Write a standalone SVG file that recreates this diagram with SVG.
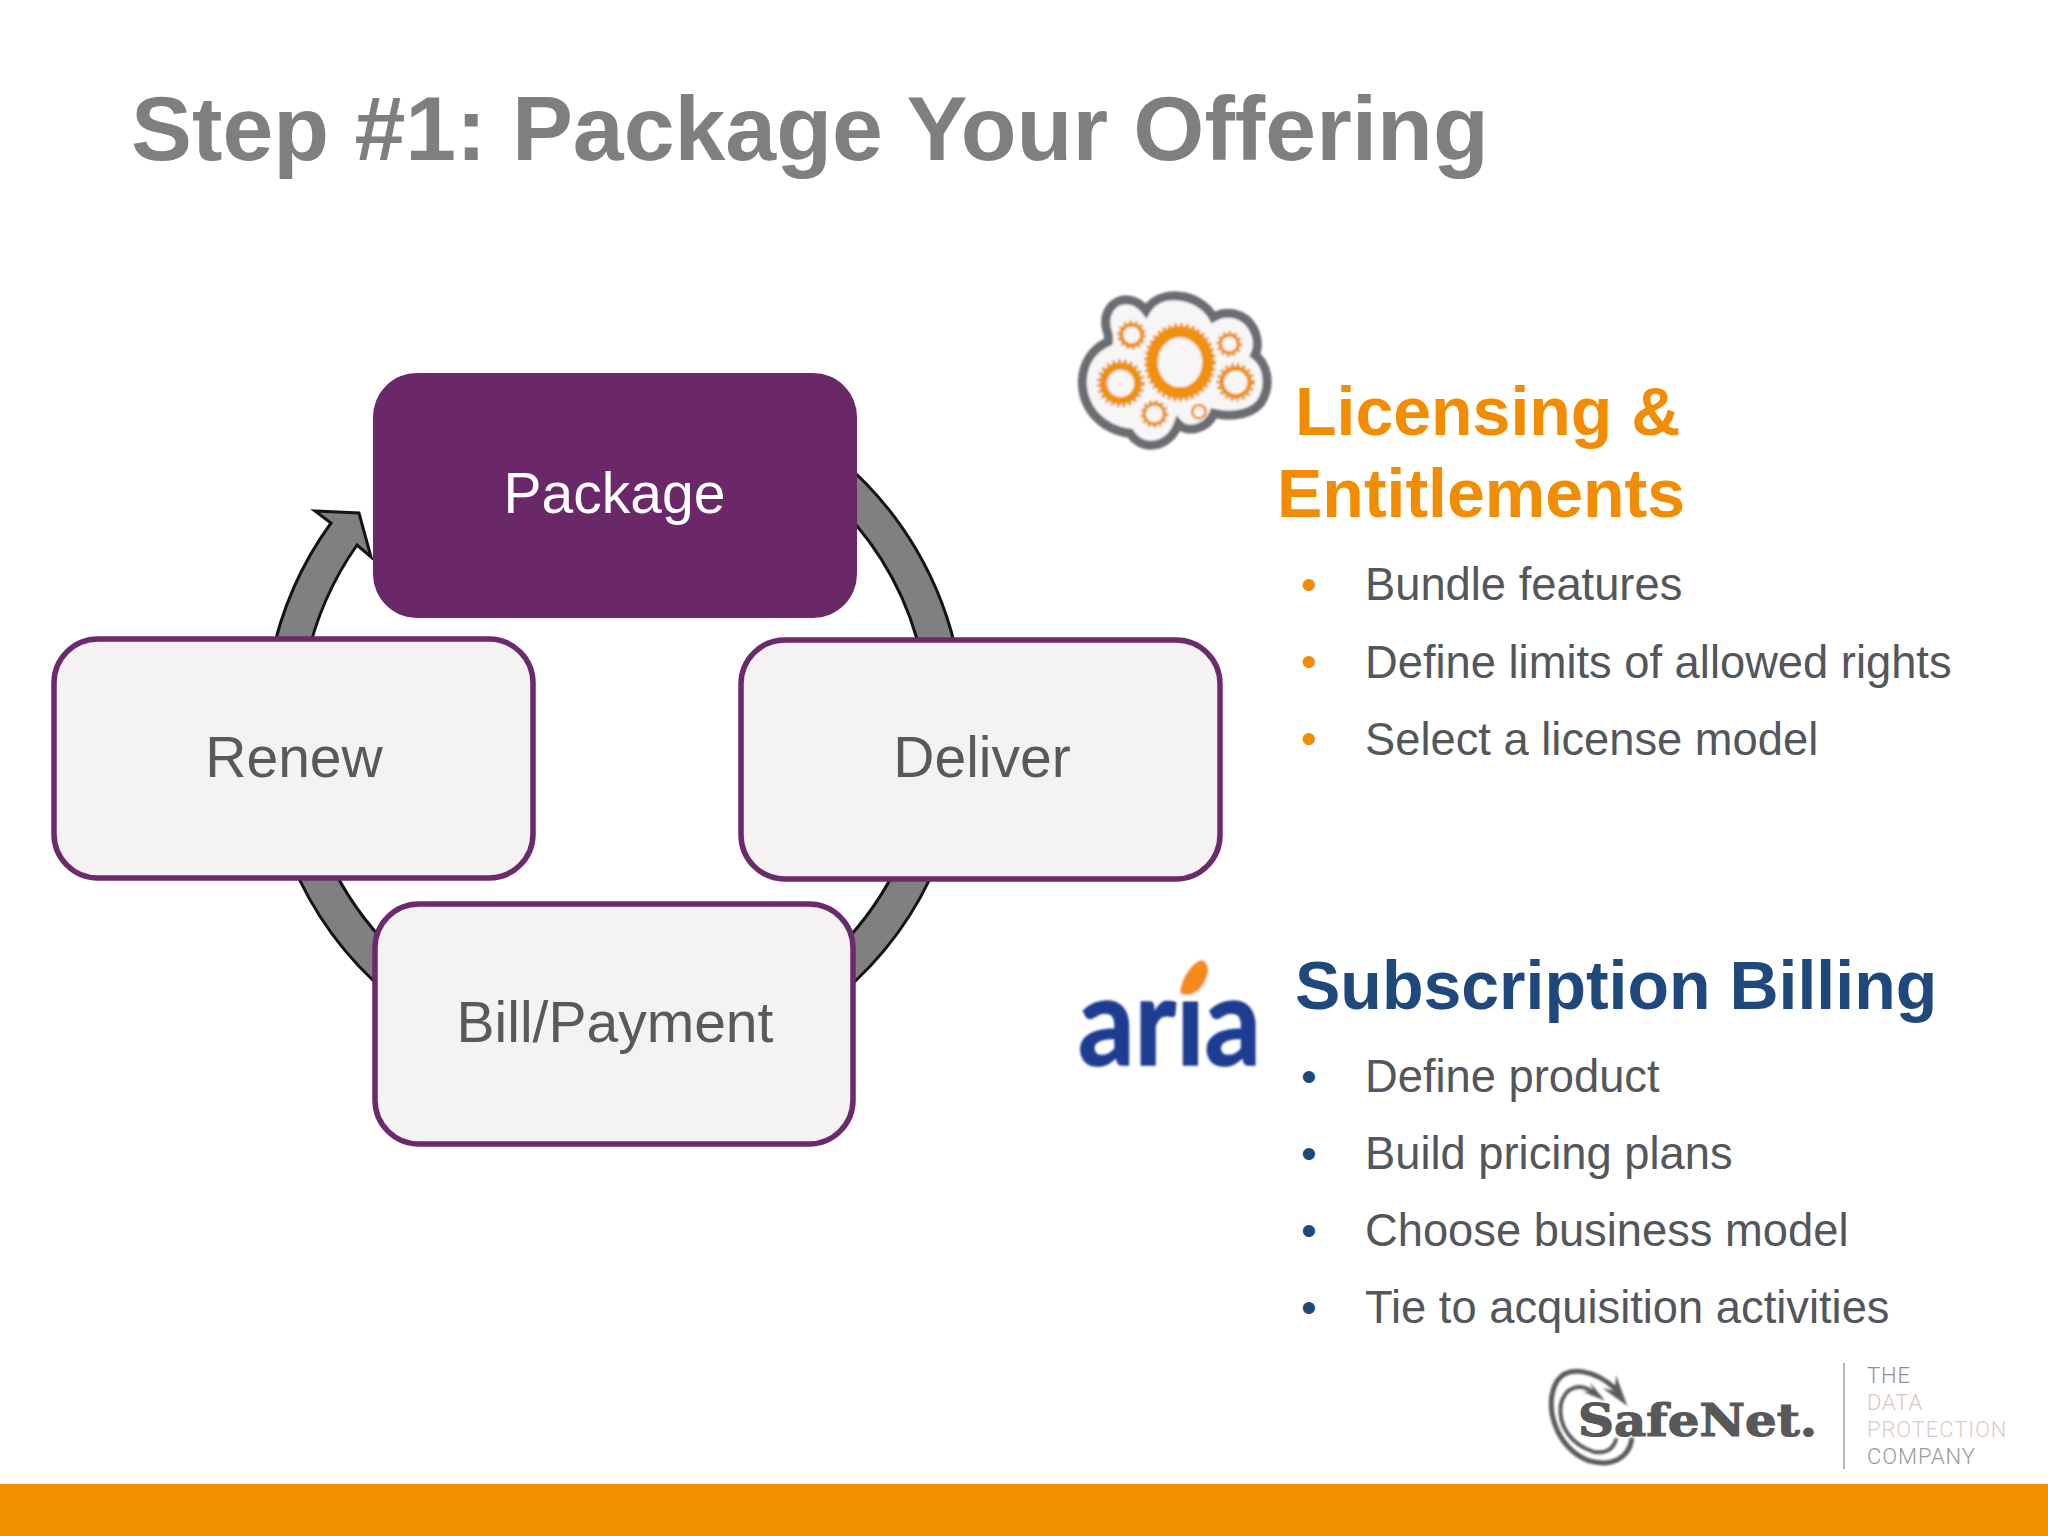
<svg xmlns="http://www.w3.org/2000/svg" width="2048" height="1536" viewBox="0 0 2048 1536">
<defs>
<filter id="soft" x="-5%" y="-5%" width="110%" height="110%"><feGaussianBlur stdDeviation="0.9"/></filter>
<filter id="soft3" x="-5%" y="-5%" width="110%" height="110%"><feGaussianBlur stdDeviation="2.4"/></filter>
</defs>
<style>
text{font-family:"Liberation Sans",Arial,sans-serif}
.node{fill:#f5f2f3;stroke:#6b2a6e;stroke-width:5.5}
.ntext{font-size:57px;fill:#595959;text-anchor:middle}
.flow{fill:#808080;stroke:#141414;stroke-width:3;stroke-linejoin:miter}
.h{font-size:68px;font-weight:bold}
.li{font-size:45.3px;fill:#53565a}
.or{fill:#f28c00}
.bl{fill:#1f497d}
.ring{fill:none;stroke:#f0900f}
.teeth{fill:none;stroke:#d9921e;stroke-dasharray:8 10}
.tag{font-family:Roboto,"Liberation Sans",sans-serif;font-weight:300;font-size:22px;letter-spacing:0.9px}
.sw{fill:none;stroke:#5c5c5e;stroke-linecap:round}
</style>
<rect width="2048" height="1536" fill="#ffffff"/>
<rect id="footer-band" x="0" y="1484" width="2048" height="52" fill="#f39000"/>
<text id="title" x="131" y="160" font-size="91.4" font-weight="bold" fill="#7f7f7f">Step #1: Package Your Offering</text>

<g id="connectors">
<path class="flow" d="M840 459.3 A350 350 0 0 1 958 660 L922.3 660 A315 315 0 0 0 840 507.1 Z"/>
<path class="flow" d="M938.3 860 A350 350 0 0 1 840 994.7 L840 946.9 A315 315 0 0 0 900 860 Z"/>
<path class="flow" d="M390 995.5 A350 350 0 0 1 290.7 860 L329 860 A315 315 0 0 0 390 947.7 Z"/>
<path class="flow" d="M271 660 A350 350 0 0 1 331 523 L315 511 L359 513 L371 557 L357 545 A315 315 0 0 0 306.7 660 Z"/>
</g>

<g id="node-package">
<rect x="373" y="373" width="484" height="245" rx="44" fill="#6b2868"/>
<text x="614.5" y="513" class="ntext" style="fill:#ffffff">Package</text>
</g>
<g id="node-renew">
<rect class="node" x="54" y="639" width="479" height="239" rx="44"/>
<text x="294" y="777" class="ntext">Renew</text>
</g>
<g id="node-deliver">
<rect class="node" x="741" y="640" width="479" height="239" rx="44"/>
<text x="982" y="777" class="ntext">Deliver</text>
</g>
<g id="node-bill">
<rect class="node" x="375" y="904" width="478" height="240" rx="44"/>
<text x="615" y="1042" class="ntext">Bill/Payment</text>
</g>

<g id="logo-cloud" transform="translate(1050 270) scale(0.3333)" filter="url(#soft3)">
<path d="M175 195 C150 130 190 85 235 90 C260 92 275 105 288 122 C310 85 350 75 385 78 C430 82 470 105 490 142 C530 118 585 130 610 175 C625 205 625 235 615 255 C655 285 660 345 640 385 C620 430 550 445 492 430 C470 480 410 490 385 462 C360 530 280 550 240 490 C160 480 95 420 97 330 C100 275 130 235 175 215 Z" fill="#f7f5f5" stroke="#6a6e72" stroke-width="27"/>
<g>
<ellipse class="ring" cx="390" cy="277" rx="84" ry="92" stroke-width="34"/>
<ellipse class="teeth" cx="390" cy="277" rx="102" ry="112" stroke-width="12" style="stroke:#f0900f"/>
<circle class="ring" cx="245" cy="195" r="31" stroke-width="12"/>
<circle class="teeth" cx="245" cy="195" r="40" stroke-width="7"/>
<circle class="ring" cx="538" cy="222" r="27" stroke-width="10"/>
<circle class="teeth" cx="538" cy="222" r="35" stroke-width="7"/>
<circle class="ring" cx="212" cy="340" r="52" stroke-width="22"/>
<circle class="teeth" cx="212" cy="340" r="67" stroke-width="10"/>
<circle class="ring" cx="557" cy="337" r="42" stroke-width="14"/>
<circle class="teeth" cx="557" cy="337" r="53" stroke-width="9"/>
<circle class="ring" cx="313" cy="432" r="30" stroke-width="10"/>
<circle class="teeth" cx="313" cy="432" r="38" stroke-width="7"/>
<circle class="ring" cx="447" cy="425" r="20" stroke-width="8"/>
</g>
</g>

<g id="section-licensing">
<text class="h or" x="1295" y="435">Licensing &amp;</text>
<text class="h or" x="1277" y="517">Entitlements</text>
<g class="or" font-size="45">
<text x="1301" y="600">•</text><text x="1301" y="677">•</text><text x="1301" y="754">•</text>
</g>
<text class="li" x="1365" y="600">Bundle features</text>
<text class="li" x="1365" y="678">Define limits of allowed rights</text>
<text class="li" x="1365" y="755">Select a license model</text>
</g>

<g id="logo-aria" filter="url(#soft)">
<text x="1078" y="1065" font-size="122" font-weight="bold" fill="#1d3c92" stroke="#1d3c92" stroke-width="1.5" textLength="183" lengthAdjust="spacingAndGlyphs" style="font-family:Lato,'Liberation Sans',sans-serif">aria</text>
<rect x="1168" y="950" width="50" height="50" fill="#ffffff"/>
<path d="M1180 990 C1183 975 1193 962 1201 960 C1207 961 1209 967 1208 973 C1205 985 1198 994 1188 995 C1182 995 1180 994 1180 990 Z" fill="#f58a1f"/>
</g>

<g id="section-billing">
<text class="h bl" x="1295" y="1009">Subscription Billing</text>
<g class="bl" font-size="45">
<text x="1301" y="1092">•</text><text x="1301" y="1169">•</text><text x="1301" y="1246">•</text><text x="1301" y="1323">•</text>
</g>
<text class="li" x="1365" y="1092">Define product</text>
<text class="li" x="1365" y="1169">Build pricing plans</text>
<text class="li" x="1365" y="1246">Choose business model</text>
<text class="li" x="1365" y="1323">Tie to acquisition activities</text>
</g>

<g id="logo-safenet">
<g transform="translate(1530 1350) scale(0.3333)" filter="url(#soft3)">
<path class="sw" stroke-width="15" d="M255 115 C200 65 115 40 80 95 C40 165 75 290 175 332 C245 352 295 325 305 270"/>
<path class="sw" stroke-width="12" d="M195 130 C150 95 105 110 92 165 C85 230 125 285 190 305 C230 312 250 295 258 270"/>
<path d="M258 75 L292 168 L218 115 L255 122 Z M180 97 L225 152 L158 125 L192 125 Z" fill="#5c5c5e"/>
</g>
<text x="1578" y="1436" font-size="45" font-weight="bold" fill="#58585a" stroke="#58585a" stroke-width="1.2" textLength="239" lengthAdjust="spacingAndGlyphs" style="font-family:'DejaVu Serif',serif">SafeNet.</text>
<rect x="1843" y="1363" width="2" height="106" fill="#b4b4b4"/>
<text class="tag" x="1867" y="1383" fill="#8f8f8f">THE</text>
<text class="tag" x="1867" y="1410" fill="#d8c6ba">DATA</text>
<text class="tag" x="1867" y="1437" fill="#dccbc0">PROTECTION</text>
<text class="tag" x="1867" y="1464" fill="#9a9a9a">COMPANY</text>
</g>
</svg>
